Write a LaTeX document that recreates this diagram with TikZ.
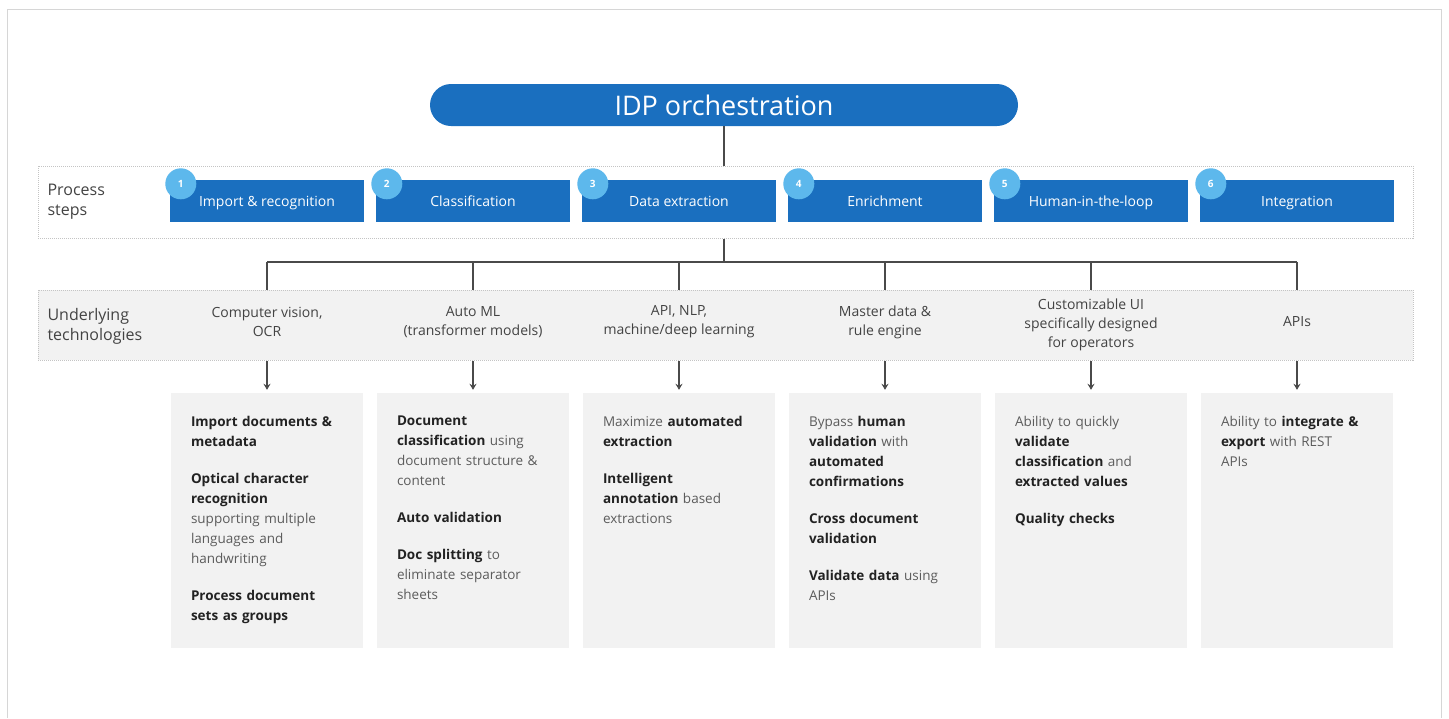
\documentclass[tikz,border=0pt]{standalone}
\usepackage{fontspec}
\setmainfont{Open Sans}
\usetikzlibrary{positioning,arrows.meta}

\definecolor{idpblue}{HTML}{1A6FBF}
\definecolor{badgeblue}{HTML}{5DB8EC}
\definecolor{panelgrey}{HTML}{F2F2F2}
\definecolor{framegrey}{HTML}{D6D6D6}
\definecolor{dotgrey}{HTML}{C4C4C4}
\definecolor{linegrey}{HTML}{4A4A4A}
\definecolor{txtdark}{HTML}{222222}
\definecolor{txtgrey}{HTML}{5C5C5C}

\newcommand{\hl}[1]{\textbf{\color{txtdark}#1}}
\newcommand{\gap}{\\[17pt]}

\begin{document}
\begin{tikzpicture}[x=1pt,y=-1pt]
        \tikzstyle{title}=[rectangle,rounded corners=21pt,fill=idpblue,text=white,minimum width=588,minimum height=42,font=\fontsize{27}{30}\selectfont]
        \tikzstyle{band}=[rectangle,draw=dotgrey,densely dotted,line width=1pt,minimum width=1375]
        \tikzstyle{stepbox}=[rectangle,fill=idpblue,text=white,minimum width=194,minimum height=42,inner sep=0pt,text height=12pt,text depth=1pt,font=\fontsize{14}{16}\selectfont]
        \tikzstyle{badge}=[circle,fill=badgeblue,text=white,minimum size=31pt,inner sep=0pt,font=\fontsize{10}{10}\selectfont\bfseries]
        \tikzstyle{rowlabel}=[anchor=west,align=left,text=txtdark!85,font=\fontsize{16}{20}\selectfont]
        \tikzstyle{tech}=[align=center,text=txtdark!85,font=\fontsize{14}{19}\selectfont]
        \tikzstyle{detailbox}=[rectangle,fill=panelgrey,minimum width=192,minimum height=255,inner sep=0pt]
        \tikzstyle{detail}=[anchor=north west,align=left,text width=156,inner sep=0pt,text=txtgrey,font=\fontsize{13.5}{20}\selectfont]
        \tikzstyle{edge}=[draw=linegrey,line width=1.6pt]
        \tikzstyle{arrow}=[draw=linegrey,line width=1.3pt,-{Stealth[length=6pt,width=7pt]},shorten >=3pt]

        \useasboundingbox (0,0) rectangle (1449,718);
        \draw[framegrey,line width=1pt] (7,718) -- (7,9) -- (1441,9) -- (1441,718);

        % orchestration and process steps
        \node [title] (idp) at (724,105) {IDP orchestration};
        \node [band,fill=white,minimum height=72] (stepband) at (725.5,202) {};
        \node [rowlabel] (steplabel) at (44,202) {Process\\steps};

        \node [stepbox] (s1) at (267,201) {Import \& recognition};
        \node [stepbox] (s2) at (473,201) {Classification};
        \node [stepbox] (s3) at (679,201) {Data extraction};
        \node [stepbox] (s4) at (885,201) {Enrichment};
        \node [stepbox] (s5) at (1091,201) {Human-in-the-loop};
        \node [stepbox] (s6) at (1297,201) {Integration};

        \node [badge] (b1) at ([shift={(11,4)}]s1.north west) {1};
        \node [badge] (b2) at ([shift={(11,4)}]s2.north west) {2};
        \node [badge] (b3) at ([shift={(11,4)}]s3.north west) {3};
        \node [badge] (b4) at ([shift={(11,4)}]s4.north west) {4};
        \node [badge] (b5) at ([shift={(11,4)}]s5.north west) {5};
        \node [badge] (b6) at ([shift={(11,4)}]s6.north west) {6};

        % underlying technologies
        \node [band,fill=panelgrey,minimum height=70] (techband) at (725.5,325) {};
        \node [rowlabel] (techlabel) at (44,326) {Underlying\\technologies};

        \node [tech] (t1) at (267,322) {Computer vision,\\OCR};
        \node [tech] (t2) at (473,322) {Auto ML\\(transformer models)};
        \node [tech] (t3) at (679,322) {API, NLP,\\machine/deep learning};
        \node [tech] (t4) at (885,322) {Master data \&\\rule engine};
        \node [tech] (t5) at (1091,325) {Customizable UI\\specifically designed\\for operators};
        \node [tech] (t6) at (1297,322) {APIs};

        % capabilities
        \node [detailbox] (d1) at (267,520.5) {};
        \node [detailbox] (d2) at (473,520.5) {};
        \node [detailbox] (d3) at (679,520.5) {};
        \node [detailbox] (d4) at (885,520.5) {};
        \node [detailbox] (d5) at (1091,520.5) {};
        \node [detailbox] (d6) at (1297,520.5) {};

        \node [detail] (c1) at ([shift={(20,23)}]d1.north west) {\hl{Import documents \&}\\\hl{metadata}\gap\hl{Optical character}\\\hl{recognition}\\supporting multiple\\languages and\\handwriting\gap\hl{Process document}\\\hl{sets as groups}};
        \node [detail] (c2) at ([shift={(20,23)}]d2.north west) {\hl{Document}\\\hl{classification} using\\document structure \&\\content\gap\hl{Auto validation}\gap\hl{Doc splitting} to\\eliminate separator\\sheets};
        \node [detail] (c3) at ([shift={(20,23)}]d3.north west) {Maximize \hl{automated}\\\hl{extraction}\gap\hl{Intelligent}\\\hl{annotation} based\\extractions};
        \node [detail] (c4) at ([shift={(20,23)}]d4.north west) {Bypass \hl{human}\\\hl{validation} with\\\hl{automated}\\\hl{confirmations}\gap\hl{Cross document}\\\hl{validation}\gap\hl{Validate data} using\\APIs};
        \node [detail] (c5) at ([shift={(20,23)}]d5.north west) {Ability to quickly\\\hl{validate}\\\hl{classification} and\\\hl{extracted values}\gap\hl{Quality checks}};
        \node [detail] (c6) at ([shift={(20,23)}]d6.north west) {Ability to \hl{integrate \&}\\\hl{export} with REST\\APIs};

        % connectors
        \coordinate (bar) at (724,262);
        \path[edge] (idp.south) -- (idp.south |- stepband.north);
        \path[edge] (idp.south |- stepband.south) -- (bar);
        \path[edge] (bar -| d1.north) -- (bar -| d6.north);

        \path[edge] (bar -| d1.north) -- (techband.north -| d1.north);
        \path[edge] (bar -| d2.north) -- (techband.north -| d2.north);
        \path[edge] (bar -| d3.north) -- (techband.north -| d3.north);
        \path[edge] (bar -| d4.north) -- (techband.north -| d4.north);
        \path[edge] (bar -| d5.north) -- (techband.north -| d5.north);
        \path[edge] (bar -| d6.north) -- (techband.north -| d6.north);

        \path[arrow] (techband.south -| d1.north) -- (d1.north);
        \path[arrow] (techband.south -| d2.north) -- (d2.north);
        \path[arrow] (techband.south -| d3.north) -- (d3.north);
        \path[arrow] (techband.south -| d4.north) -- (d4.north);
        \path[arrow] (techband.south -| d5.north) -- (d5.north);
        \path[arrow] (techband.south -| d6.north) -- (d6.north);
\end{tikzpicture}
\end{document}
